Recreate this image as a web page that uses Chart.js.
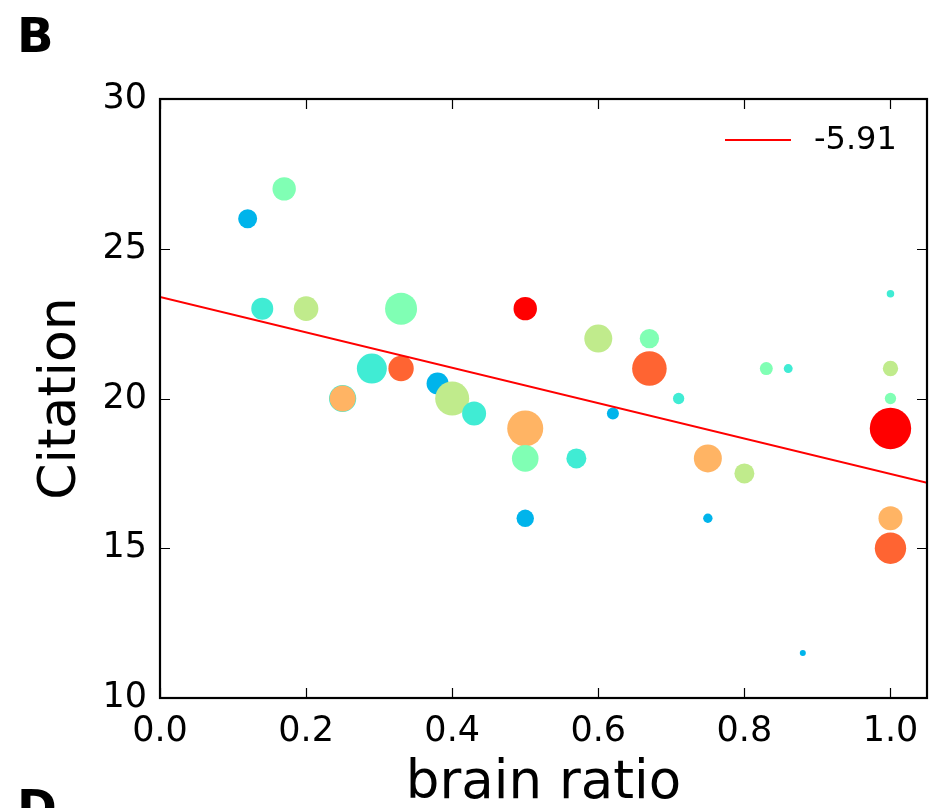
<!DOCTYPE html>
<html>
<head>
<meta charset="utf-8">
<script src="https://cdn.jsdelivr.net/npm/chart.js@4.4.1/dist/chart.umd.min.js"></script>
<style>
  html, body { margin: 0; padding: 0; background: #fff; overflow: hidden; }
  #wrap { position: relative; width: 930px; height: 808px; }
  .panel { position: absolute; font: bold 48px "DejaVu Sans", sans-serif; line-height: 1; color: #000; }
</style>
</head>
<body>
<div id="wrap">
  <canvas id="chart" width="930" height="808"></canvas>
  <div class="panel" style="left:17px;top:11px">B</div>
  <div class="panel" style="left:17px;top:783px">D</div>
</div>
<script>
// one entry per lab: brain ratio, citation score, marker weight (area), colour group
const brainRatio = [0.12, 0.17, 0.14, 0.20, 0.33, 0.29, 0.33, 0.25, 0.25, 0.38, 0.40, 0.43,
  0.50, 0.60, 0.67, 0.67, 0.83, 0.86, 1.00, 1.00, 1.00, 0.71, 0.62, 0.50, 0.50, 0.57,
  0.75, 0.80, 1.00, 0.50, 0.75, 1.00, 1.00, 0.88];
const citation = [26, 27, 23, 23, 23, 21, 21, 20, 20, 20.5, 20, 19.5,
  23, 22, 22, 21, 21, 21, 23.5, 21, 20, 20, 19.5, 19, 18, 18,
  18, 17.5, 19, 16, 16, 16, 15, 11.5];
const weight = [90, 137, 121, 151, 256, 225, 161, 185, 169, 121, 289, 144,
  137, 196, 94, 299, 42, 20, 14, 59, 32, 32, 36, 324, 177, 100,
  196, 100, 428, 76, 22, 144, 246, 9];
const group = [0, 2, 1, 3, 2, 1, 5, 1, 4, 0, 3, 1,
  6, 3, 2, 5, 2, 1, 1, 3, 2, 1, 0, 4, 2, 1,
  4, 3, 6, 0, 0, 4, 5, 0];
const groupColors = ['rgb(0,180,235)', 'rgb(64,236,212)', 'rgb(128,255,180)', 'rgb(192,235,140)',
  'rgb(255,180,100)', 'rgb(255,100,50)', 'rgb(255,0,0)'];

const xTicks = [0.0, 0.2, 0.4, 0.6, 0.8, 1.0];
const yTicks = [10, 15, 20, 25, 30];
const xMax = 1.05;

// least-squares fit line
const fitSlope = -5.91;
const fitIntercept = 23.39;

const FONT = '"DejaVu Sans", sans-serif';

// black box round the plot with inward ticks on all four sides
const frameTicks = {
  id: 'frameTicks',
  afterDatasetsDraw(chart) {
    const { ctx, chartArea: a, scales } = chart;
    const len = 10;
    ctx.save();
    ctx.strokeStyle = '#000';
    ctx.lineWidth = 1.2;
    ctx.beginPath();
    for (const v of xTicks) {
      const px = Math.round(scales.x.getPixelForValue(v)) + 0.5;
      ctx.moveTo(px, a.bottom); ctx.lineTo(px, a.bottom - len);
      ctx.moveTo(px, a.top); ctx.lineTo(px, a.top + len);
    }
    for (const v of yTicks) {
      const py = Math.round(scales.y.getPixelForValue(v)) + 0.5;
      ctx.moveTo(a.left, py); ctx.lineTo(a.left + len, py);
      ctx.moveTo(a.right, py); ctx.lineTo(a.right - len, py);
    }
    ctx.stroke();
    ctx.lineWidth = 2.2;
    ctx.strokeRect(a.left, a.top, a.right - a.left, a.bottom - a.top);
    ctx.restore();
  }
};

// legend entry for the fit line, top right inside the plot
const fitLegend = {
  id: 'fitLegend',
  afterDraw(chart) {
    const { ctx } = chart;
    const ds = chart.data.datasets[0];
    ctx.save();
    ctx.strokeStyle = ds.borderColor;
    ctx.lineWidth = 2;
    ctx.beginPath();
    ctx.moveTo(725, 140);
    ctx.lineTo(791, 140);
    ctx.stroke();
    ctx.fillStyle = '#000';
    ctx.font = '32px ' + FONT;
    ctx.textBaseline = 'middle';
    ctx.textAlign = 'left';
    ctx.fillText(ds.label, 814, 141);
    ctx.restore();
  }
};

const points = brainRatio.map((x, i) => ({ x, y: citation[i] }));

new Chart(document.getElementById('chart'), {
  data: {
    datasets: [
      {
        type: 'line',
        label: fitSlope.toFixed(2),
        data: [0, xMax].map(x => ({ x, y: fitIntercept + fitSlope * x })),
        borderColor: 'rgb(255,0,0)',
        borderWidth: 2,
        pointRadius: 0,
        order: 0,
      },
      {
        type: 'scatter',
        label: 'labs',
        data: points,
        pointRadius: weight.map(w => Math.sqrt(w)),
        pointHoverRadius: weight.map(w => Math.sqrt(w)),
        backgroundColor: group.map(g => groupColors[g]),
        borderWidth: 0,
        order: 1,
      },
    ],
  },
  options: {
    responsive: false,
    animation: false,
    events: [],
    layout: { autoPadding: false, padding: { top: 99, right: 3, left: 0, bottom: 0 } },
    plugins: { legend: { display: false }, tooltip: { enabled: false } },
    scales: {
      x: {
        type: 'linear',
        min: 0,
        max: xMax,
        grid: { display: false, drawTicks: false },
        border: { display: false },
        afterBuildTicks: s => { s.ticks = xTicks.map(value => ({ value })); },
        afterFit: s => { s.height = 110; s.paddingLeft = 0; s.paddingRight = 0; },
        ticks: {
          color: '#000',
          padding: 13,
          maxRotation: 0,
          font: { family: FONT, size: 35 },
          callback: v => v.toFixed(1),
        },
        title: {
          display: true,
          text: 'brain ratio',
          color: '#000',
          font: { family: FONT, size: 53, lineHeight: 1 },
          padding: { top: 0, bottom: -3 },
        },
      },
      y: {
        type: 'linear',
        min: 10,
        max: 30,
        grid: { display: false, drawTicks: false },
        border: { display: false },
        afterBuildTicks: s => { s.ticks = yTicks.map(value => ({ value })); },
        afterFit: s => { s.width = 160; s.paddingTop = 0; s.paddingBottom = 0; },
        ticks: {
          color: '#000',
          padding: 13,
          font: { family: FONT, size: 35 },
        },
        title: {
          display: true,
          text: 'Citation',
          color: '#000',
          font: { family: FONT, size: 52, lineHeight: 1 },
          padding: { top: 35, bottom: 0 },
        },
      },
    },
  },
  plugins: [frameTicks, fitLegend],
});
</script>
</body>
</html>
